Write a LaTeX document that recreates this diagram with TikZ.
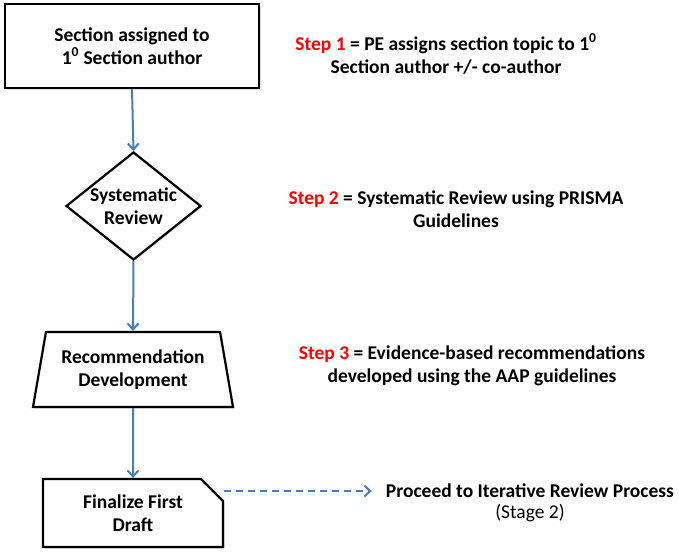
\documentclass[tikz,border=0pt]{standalone}
\usepackage{fontspec}
\setmainfont{Carlito}
\usetikzlibrary{shapes.geometric,shapes.misc,arrows.meta,shadows}
\definecolor{flowblue}{RGB}{74,126,187}
\definecolor{stepred}{RGB}{255,0,0}
\tikzset{
  txt/.style={align=center, font=\fontsize{19.5}{23}\selectfont\bfseries, inner sep=0pt},
  box/.style={draw=black, line width=2.2pt, fill=white, align=center,
    font=\fontsize{19.5}{23}\selectfont\bfseries, inner sep=0pt,
    drop shadow={opacity=0.25, shadow xshift=1.5pt, shadow yshift=-1.5pt}},
  flow/.style={draw=flowblue, line width=2pt, -{Straight Barb[length=6pt,width=11pt]}},
  dflow/.style={flow, dash pattern=on 7pt off 5pt},
  note/.style={txt}
}
\begin{document}
\begin{tikzpicture}[x=1pt,y=-1pt]
\useasboundingbox (0,0) rectangle (679,552);
\node[box, rectangle, minimum width=254pt, minimum height=84pt] (s1) at (132,46)
  {Section assigned to\\1\textsuperscript{0} Section author};
\node[box, diamond, aspect=1.25, inner sep=1pt, minimum width=135pt, minimum height=108pt,
  label={[txt]center:Systematic\\Review}] (s2) at (133.5,206) {};
\node[box, trapezium, trapezium left angle=75, trapezium right angle=75,
  trapezium stretches=true, minimum width=200pt, minimum height=75pt] (s3) at (133,369.5)
  {Recommendation\\Development};
\node[box, chamfered rectangle, chamfered rectangle corners=north east,
  chamfered rectangle xsep=10pt, chamfered rectangle ysep=12pt,
  minimum width=180pt, minimum height=68pt] (s4) at (133,513)
  {Finalize First\\Draft};

\draw[flow] (s1.south) -- (s2.north);
\draw[flow] (s2.south) -- (s3.north);
\draw[flow] (s3.south) -- (s4.north);

\node[note] (n1) at (446,54)
  {{\color{stepred}Step 1} = PE assigns section topic to 1\textsuperscript{0}\\Section author +/- co-author};
\node[note] (n2) at (456,209)
  {{\color{stepred}Step 2} = Systematic Review using PRISMA\\Guidelines};
\node[note] (n3) at (472,365.5)
  {{\color{stepred}Step 3} = Evidence-based recommendations\\developed using the AAP guidelines};

\coordinate (d0) at ([yshift=22pt]s4.east);
\node[note, inner xsep=14pt] (p1) at (530,491) {Proceed to Iterative Review Process};
\node[align=center, font=\fontsize{19.5}{23}\selectfont, inner sep=0pt] (p2) at (530,513) {(Stage 2)};
\draw[dflow] (d0) -- (p1.west);
\end{tikzpicture}
\end{document}
